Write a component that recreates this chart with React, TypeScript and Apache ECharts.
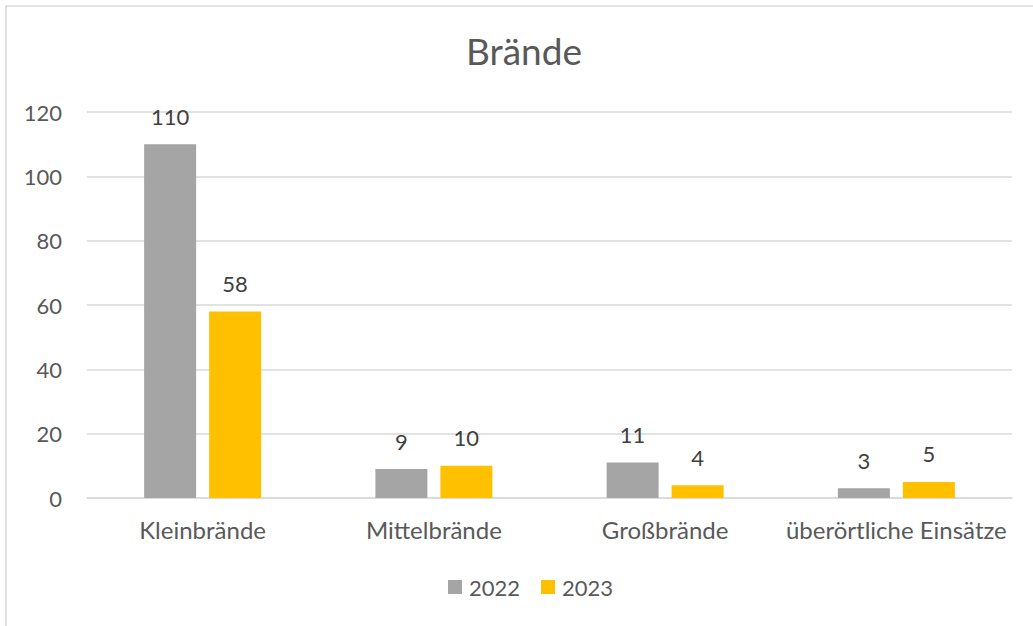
import React, { useEffect, useRef } from "react";
import * as echarts from "echarts";

const categories = ["Kleinbrände", "Mittelbrände", "Großbrände", "überörtliche Einsätze"];
const values2022 = [110, 9, 11, 3];
const values2023 = [58, 10, 4, 5];
const seriesNames = ["2022", "2023"];

const FONT = "Lato, 'Open Sans', sans-serif";

export default function App() {
  const ref = useRef<HTMLDivElement>(null);
  useEffect(() => {
    if (!ref.current) return;
    const chart = echarts.init(ref.current, null, { renderer: "svg" });
    const labelStyle = { show: true, position: "top", distance: 17, fontFamily: FONT, fontSize: 22, color: "#404040" };
    chart.setOption({
      animation: false,
      backgroundColor: "#ffffff",
      title: {
        text: "Brände",
        left: 466,
        top: 32,
        padding: 0,
        textStyle: { fontFamily: FONT, fontSize: 37, fontWeight: "normal", color: "#595959" },
      },
      graphic: [
        {
          type: "rect",
          shape: { x: 6, y: 6, width: 1040, height: 640 },
          style: { fill: "none", stroke: "#d9d9d9", lineWidth: 1.5 },
          silent: true,
          z: -1,
        },
      ],
      legend: {
        data: seriesNames,
        bottom: 23,
        left: 443,
        itemWidth: 14,
        itemHeight: 14,
        itemGap: 21,
        icon: "rect",
        textStyle: { fontFamily: FONT, fontSize: 22, color: "#595959", padding: [0, 0, 0, 2] },
      },
      grid: { left: 87, right: 21, top: 112, bottom: 128, containLabel: false },
      xAxis: {
        type: "category",
        data: categories,
        axisTick: { show: false },
        axisLine: { lineStyle: { color: "#d9d9d9", width: 1.5 } },
        axisLabel: { fontFamily: FONT, fontSize: 24, color: "#595959", margin: 19, interval: 0 },
      },
      yAxis: {
        type: "value",
        min: 0,
        max: 120,
        interval: 20,
        axisLine: { show: false },
        axisTick: { show: false },
        splitLine: { lineStyle: { color: "#d9d9d9", width: 1.5 } },
        axisLabel: { fontFamily: FONT, fontSize: 22, color: "#595959", margin: 25 },
      },
      series: [
        {
          name: seriesNames[0],
          type: "bar",
          data: values2022,
          barWidth: 52,
          barGap: "25%",
          itemStyle: { color: "#a5a5a5" },
          label: labelStyle,
        },
        {
          name: seriesNames[1],
          type: "bar",
          data: values2023,
          barWidth: 52,
          barGap: "25%",
          itemStyle: { color: "#ffc000" },
          label: labelStyle,
        },
      ],
    });
    return () => chart.dispose();
  }, []);
  return (
    <div
      ref={ref}
      style={{ position: "absolute", left: 0, top: 0, width: 1033, height: 626 }}
    />
  );
}
